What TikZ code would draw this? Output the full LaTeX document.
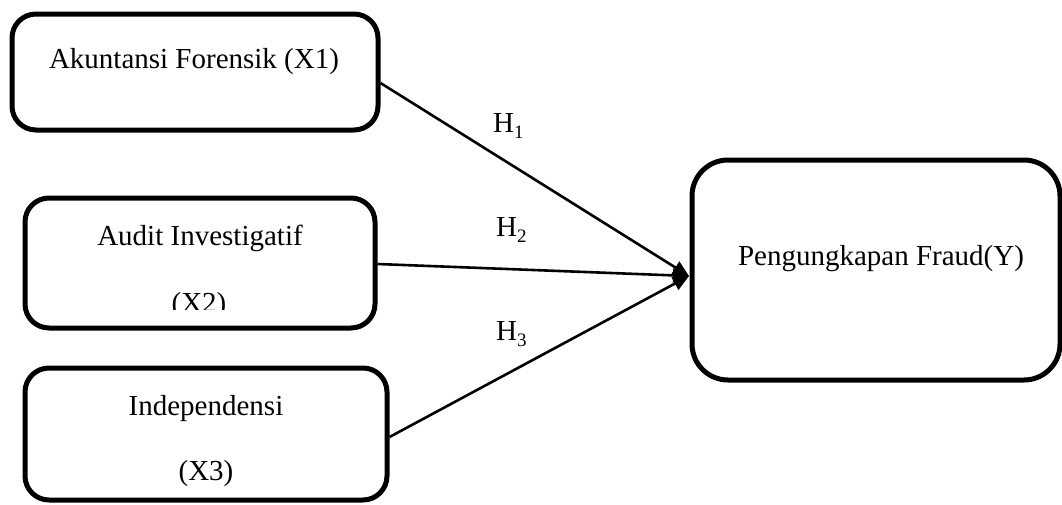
\documentclass[tikz,border=0pt]{standalone}
\usepackage{fontspec}
\setmainfont{Liberation Serif}
\usetikzlibrary{arrows.meta,calc}
\begin{document}
\begin{tikzpicture}[x=1pt,y=-1pt,
  box/.style={draw=black,line width=5pt,rounded corners=24pt,inner sep=0pt},
  lbl/.style={anchor=base,inner sep=0pt,font=\fontsize{29}{35}\selectfont},
  hyp/.style={anchor=base west,inner sep=0pt,font=\fontsize{29}{35}\selectfont},
  conn/.style={line width=2.6pt,-{Triangle[length=16pt,width=14pt]}}]
\useasboundingbox (0,0) rectangle (1062,504);
% boxes
\node[box,minimum width=366pt,minimum height=116pt] (b1) at (195,72) {};
\node[box,minimum width=350pt,minimum height=130pt] (b2) at (200,263) {};
\node[box,minimum width=362pt,minimum height=132pt] (b3) at (206,434) {};
\node[box,rounded corners=36pt,minimum width=368pt,minimum height=220pt] (y) at (876,270) {};
% texts
\node[lbl] (t1) at (194,68) {Akuntansi Forensik (X1)};
\node[lbl] (t2a) at (200,245) {Audit Investigatif};
\begin{scope}
\clip (0,250) rectangle (1062,309);
\node[lbl] (t2b) at (199,312) {(X2)};
\end{scope}
\node[lbl] (t3a) at (206,415) {Independensi};
\node[lbl] (t3b) at (206,480) {(X3)};
\node[lbl] (ty) at (881,265) {Pengungkapan Fraud(Y)};
% hypothesis labels
\newcommand{\hsub}[1]{H\raisebox{-0.22em}{\fontsize{19}{19}\selectfont #1}}
\node[hyp] (h1) at (493,132) {\hsub{1}};
\node[hyp] (h2) at (496,236) {\hsub{2}};
\node[hyp] (h3) at (496,340) {\hsub{3}};
% connectors
\coordinate (tip) at (689,276);
\draw[conn] ($(b1.east)+(0,11)$) -- (tip);
\draw[conn] ($(b2.east)+(0,1)$) -- (tip);
\draw[conn] ($(b3.east)+(0,3)$) -- (tip);
\end{tikzpicture}
\end{document}
